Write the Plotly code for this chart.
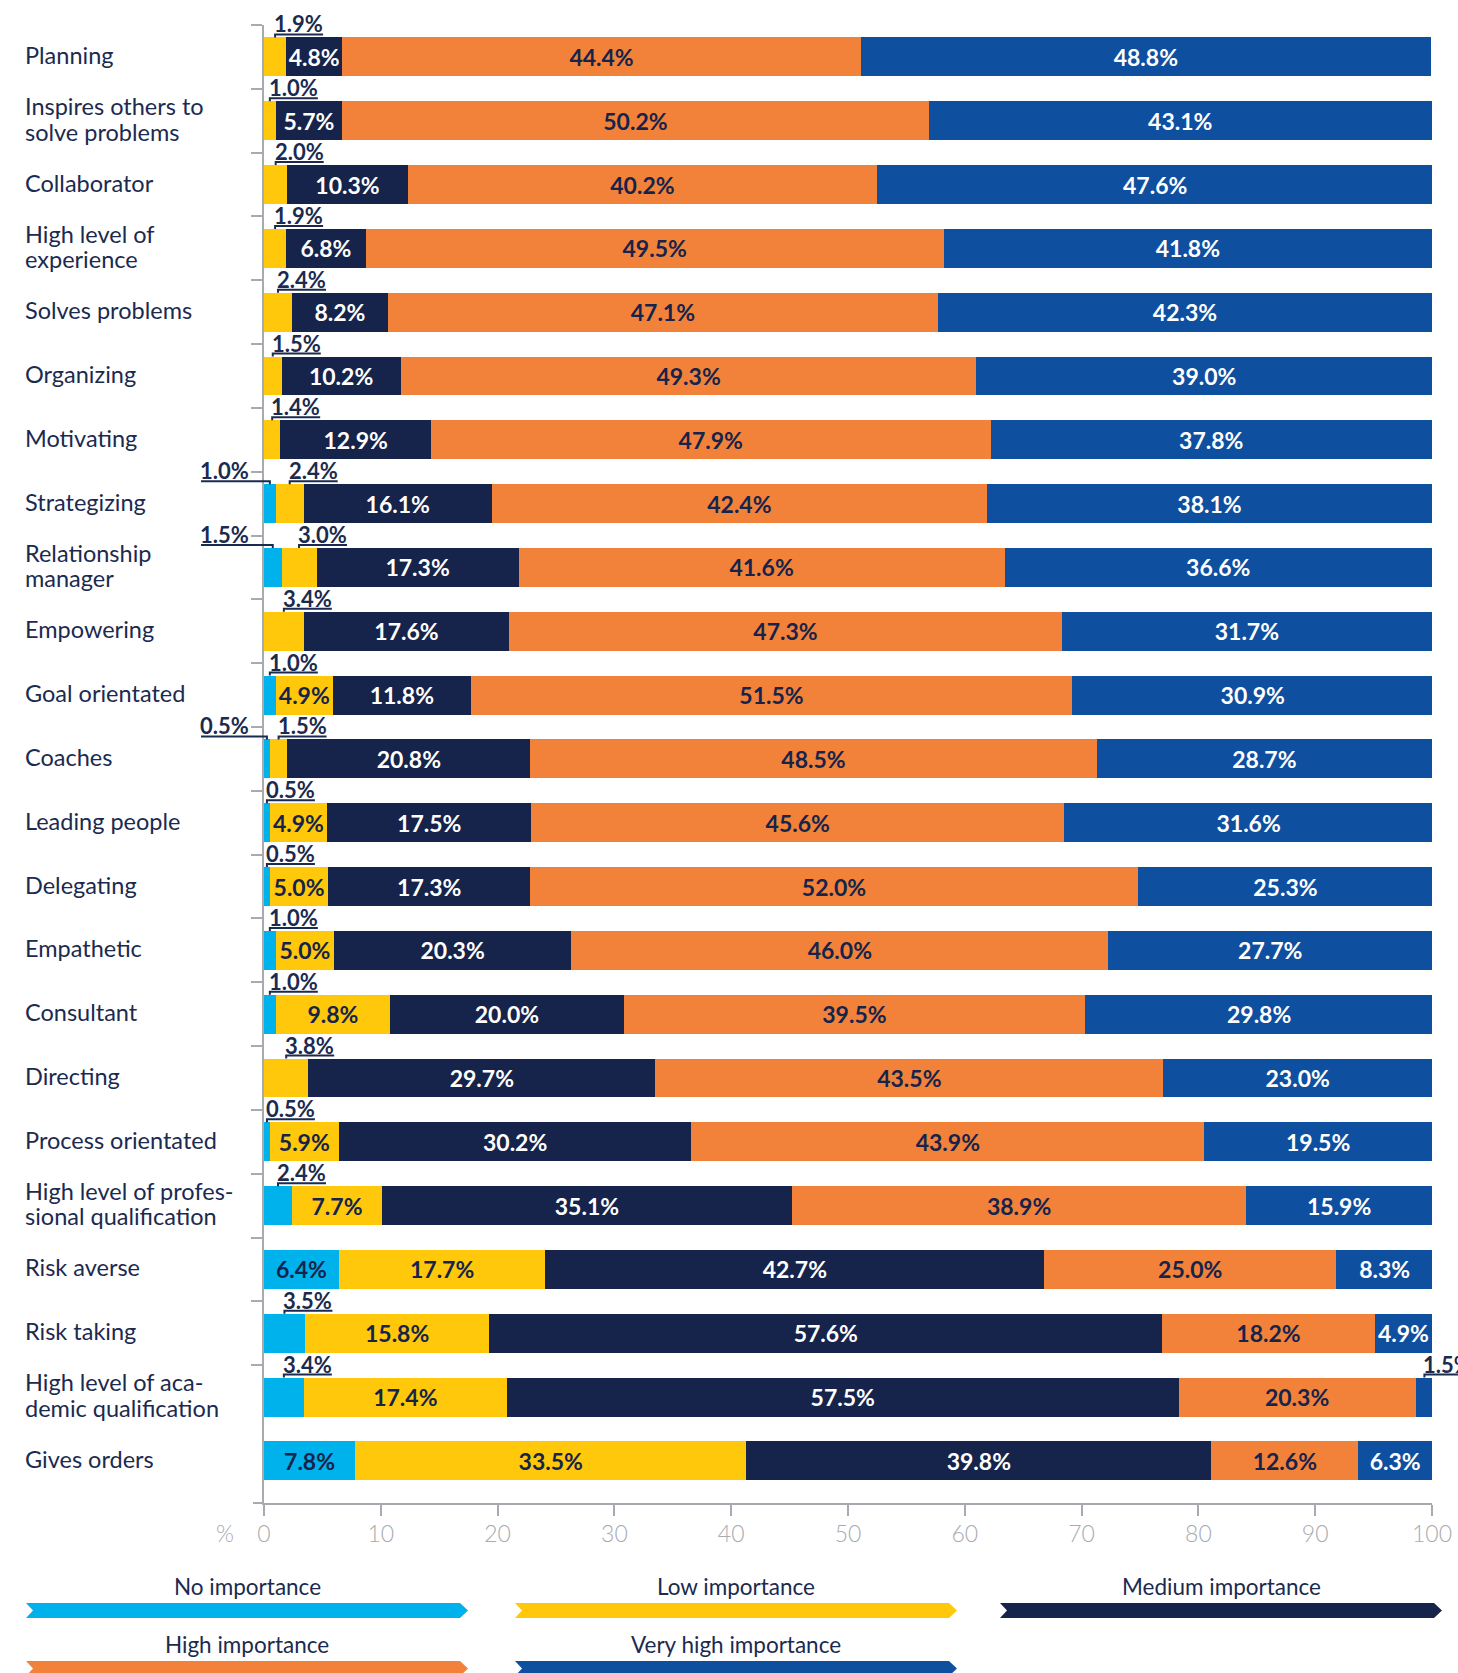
import plotly.graph_objects as go

# ---- data -------------------------------------------------------------
categories = [
    "Planning", "Inspires others to<br>solve problems", "Collaborator",
    "High level of<br>experience", "Solves problems", "Organizing", "Motivating",
    "Strategizing", "Relationship<br>manager", "Empowering", "Goal orientated",
    "Coaches", "Leading people", "Delegating", "Empathetic", "Consultant",
    "Directing", "Process orientated", "High level of profes-<br>sional qualification",
    "Risk averse", "Risk taking", "High level of aca-<br>demic qualification",
    "Gives orders",
]

series_names = ["No importance", "Low importance", "Medium importance",
                "High importance", "Very high importance"]

no_importance = [0, 0, 0, 0, 0, 0, 0, 1.0, 1.5, 0, 1.0, 0.5, 0.5, 0.5, 1.0, 1.0,
                 0, 0.5, 2.4, 6.4, 3.5, 3.4, 7.8]
low_importance = [1.9, 1.0, 2.0, 1.9, 2.4, 1.5, 1.4, 2.4, 3.0, 3.4, 4.9, 1.5, 4.9,
                  5.0, 5.0, 9.8, 3.8, 5.9, 7.7, 17.7, 15.8, 17.4, 33.5]
medium_importance = [4.8, 5.7, 10.3, 6.8, 8.2, 10.2, 12.9, 16.1, 17.3, 17.6, 11.8,
                     20.8, 17.5, 17.3, 20.3, 20.0, 29.7, 30.2, 35.1, 42.7, 57.6,
                     57.5, 39.8]
high_importance = [44.4, 50.2, 40.2, 49.5, 47.1, 49.3, 47.9, 42.4, 41.6, 47.3,
                   51.5, 48.5, 45.6, 52.0, 46.0, 39.5, 43.5, 43.9, 38.9, 25.0,
                   18.2, 20.3, 12.6]
very_high_importance = [48.8, 43.1, 47.6, 41.8, 42.3, 39.0, 37.8, 38.1, 36.6, 31.7,
                        30.9, 28.7, 31.6, 25.3, 27.7, 29.8, 23.0, 19.5, 15.9, 8.3,
                        4.9, 1.5, 6.3]

x_ticks = [0, 10, 20, 30, 40, 50, 60, 70, 80, 90, 100]

series_values = [no_importance, low_importance, medium_importance,
                 high_importance, very_high_importance]

# ---- styling ----------------------------------------------------------
colors = ["#00b2eb", "#ffc80b", "#16234b", "#f2823a", "#0f4fa0"]
label_colors = ["#16234b", "#16234b", "#ffffff", "#16234b", "#ffffff"]
NAVY = "#1b2a4f"
GRAY = "#a7abb0"
FONT = "Lato"

W, H = 1458, 1673
M_L, M_R, M_T, M_B = 264, 26, 25, 170
PLOT_W = W - M_L - M_R
PLOT_H = H - M_T - M_B
Y_TOP, Y_BOTTOM = -0.5, 22.66
BARGAP = 0.39
INSIDE_MIN = 4.5          # smaller segments get an outside, underlined label

px_per_x = PLOT_W / 100.0
px_per_row = PLOT_H / (Y_BOTTOM - Y_TOP)
half_bar = (1 - BARGAP) / 2
label_w_px = 48           # width of a "d.d%" label
LEFT_LABEL_PX = 201       # left edge of labels placed left of the axis
LINE_GAP_PX = 25.6        # spacing between the lines of a wrapped category


def fmt(v):
    return f"{v:.1f}%"


def paper_x(px):
    return (px - M_L) / PLOT_W


def paper_y(py):
    return (H - M_B - py) / PLOT_H


rows = list(range(len(categories)))
fig = go.Figure()

for name, vals, col, tcol in zip(series_names, series_values, colors, label_colors):
    fig.add_trace(go.Bar(
        name=name, orientation="h", x=vals, y=rows,
        marker=dict(color=col, line=dict(width=0)),
        text=[fmt(v) if v >= INSIDE_MIN else "" for v in vals],
        textposition="inside", insidetextanchor="middle", constraintext="none",
        textfont=dict(family=FONT, size=23, color=tcol, weight="bold"),
        hoverinfo="skip",
    ))

annotations = []
shapes = []

# category labels, left aligned; wrapped ones set line by line
for i, cat in enumerate(categories):
    lines = cat.split("<br>")
    n = len(lines)
    for j, line in enumerate(lines):
        offset_px = (j - (n - 1) / 2) * LINE_GAP_PX
        annotations.append(dict(
            x=paper_x(23), xref="paper", xanchor="left",
            y=i + offset_px / px_per_row, yref="y", yanchor="middle", yshift=2,
            text=line, align="left", showarrow=False,
            font=dict(family=FONT, size=23.5, color=NAVY),
        ))

# small segments: labels above the bar with an underline and a hook
for i in rows:
    starts = []
    acc = 0.0
    for vals in series_values:
        starts.append(acc)
        acc += vals[i]
    small = [k for k, vals in enumerate(series_values) if 0 < vals[i] < INSIDE_MIN]
    for k in small:
        v = series_values[k][i]
        xc = (starts[k] + v / 2) / 100.0          # paper units
        y_top = i - half_bar
        y_ul = y_top - 3 / px_per_row
        left_side = (k == 0 and 1 in small)
        if left_side:
            x_text = paper_x(LEFT_LABEL_PX)
            x_end = x_text
        else:
            x_text = xc
            x_end = xc + label_w_px / PLOT_W
        annotations.append(dict(
            x=x_text, xref="paper", xanchor="left", xshift=-3,
            y=y_top, yref="y", yanchor="bottom", yshift=-2,
            text=fmt(v), showarrow=False,
            font=dict(family=FONT, size=22, color=NAVY, weight="bold"),
        ))
        shapes.append(dict(
            type="path", xref="paper", yref="y",
            path=f"M {xc},{y_top} L {xc},{y_ul} L {x_end},{y_ul}",
            line=dict(color=NAVY, width=2), layer="above",
        ))

# axis stub left of zero on the x-axis line
shapes.append(dict(type="line", xref="paper", yref="paper",
                   x0=paper_x(M_L - 11), x1=0, y0=0, y1=0,
                   line=dict(color=GRAY, width=2)))

annotations.append(dict(
    x=paper_x(225), xref="paper", y=paper_y(1533), yref="paper",
    xanchor="center", yanchor="middle", text="%", showarrow=False,
    font=dict(family=FONT, size=23, color=GRAY, weight=300),
))

# legend: chevron bars with labels above
legend_cols = [(26, 468), (515, 957), (1000, 1442)]
legend_rows = [(1586, 1603), (1644, 1661)]
bar_h, notch, tip = 15, 7, 8
for k, name in enumerate(series_names):
    r, c = divmod(k, 3)
    x0, x1 = legend_cols[c]
    ty, by = legend_rows[r]
    y0, y1 = by, by + bar_h
    ym = (y0 + y1) / 2
    pts = [(x0, y0), (x1 - tip, y0), (x1, ym), (x1 - tip, y1), (x0, y1),
           (x0 + notch, ym)]
    path = "M " + " L ".join(f"{paper_x(px)},{paper_y(py)}" for px, py in pts) + " Z"
    shapes.append(dict(type="path", xref="paper", yref="paper", path=path,
                       fillcolor=colors[k], line=dict(width=0)))
    annotations.append(dict(
        x=paper_x((x0 + x1) / 2), xref="paper", y=paper_y(ty), yref="paper",
        xanchor="center", yanchor="middle", text=name, showarrow=False,
        font=dict(family=FONT, size=22.5, color=NAVY),
    ))

fig.update_layout(
    width=W, height=H, barmode="stack", bargap=BARGAP,
    margin=dict(l=M_L, r=M_R, t=M_T, b=M_B, pad=0, autoexpand=False),
    paper_bgcolor="white", plot_bgcolor="white",
    showlegend=False, annotations=annotations, shapes=shapes,
    xaxis=dict(
        range=[0, 100], tickvals=x_ticks, ticks="outside", ticklen=11,
        tickwidth=2, tickcolor=GRAY, showline=True, linecolor=GRAY, linewidth=2,
        showgrid=False, zeroline=False, automargin=False, ticklabelstandoff=-2,
        tickfont=dict(family=FONT, size=23, color=GRAY, weight=300),
    ),
    yaxis=dict(
        range=[Y_BOTTOM, Y_TOP], tickvals=[i - 0.5 for i in rows[:-1]],
        ticks="outside", ticklen=11, tickwidth=2, tickcolor=GRAY,
        showticklabels=False, showline=True, linecolor=GRAY, linewidth=2,
        showgrid=False, zeroline=False, automargin=False,
    ),
)

fig.write_html("out.html")
